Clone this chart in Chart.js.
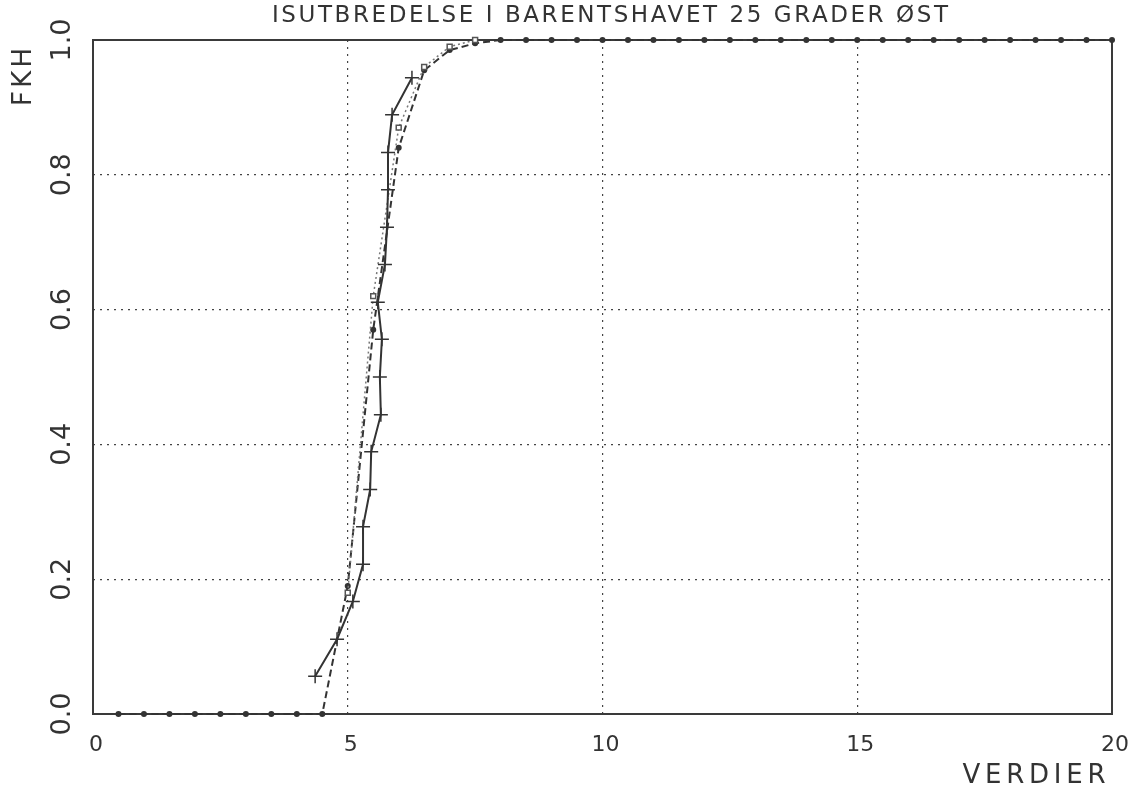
<!DOCTYPE html>
<html>
<head>
<meta charset="utf-8">
<script src="https://cdn.jsdelivr.net/npm/chart.js@4.4.1/dist/chart.umd.min.js"></script>
<style>
  html, body { margin: 0; padding: 0; background: #fff; }
  #wrap { width: 1129px; height: 793px; }
</style>
</head>
<body>
<div id="wrap"><canvas id="cdf-chart" width="1129" height="793"></canvas></div>
<script>
// texts
const titleText = 'ISUTBREDELSE I BARENTSHAVET 25 GRADER ØST';
const xTitle = 'VERDIER';
const yTitle = 'FKH';

// axis ticks
const xTicks = [0, 5, 10, 15, 20];
const yTicks = [0, 0.2, 0.4, 0.6, 0.8, 1.0];

// fitted distribution (dashed line, dots), every 0.5
const fitX = [0.5, 1, 1.5, 2, 2.5, 3, 3.5, 4, 4.5, 5, 5.5, 6, 6.5, 7, 7.5, 8, 8.5, 9, 9.5, 10,
              10.5, 11, 11.5, 12, 12.5, 13, 13.5, 14, 14.5, 15, 15.5, 16, 16.5, 17, 17.5, 18, 18.5, 19, 19.5, 20];
const fitY = [0, 0, 0, 0, 0, 0, 0, 0, 0, 0.19, 0.57, 0.84, 0.955, 0.985, 0.995, 1, 1, 1, 1, 1,
              1, 1, 1, 1, 1, 1, 1, 1, 1, 1, 1, 1, 1, 1, 1, 1, 1, 1, 1, 1];

// second fit (dotted line, squares)
const sqX = [5, 5.5, 6, 6.5, 7, 7.5];
const sqY = [0.18, 0.62, 0.87, 0.96, 0.99, 1];

// observed values (solid line, crosses)
const obsX = [4.36, 4.79, 5.1, 5.3, 5.3, 5.44, 5.46, 5.65, 5.63, 5.67, 5.59, 5.73, 5.77, 5.79, 5.79, 5.87, 6.26];
const obsY = [0.056, 0.111, 0.167, 0.222, 0.278, 0.333, 0.389, 0.444, 0.5, 0.556, 0.611, 0.667, 0.722, 0.778, 0.833, 0.889, 0.944];

const ink = '#333';

function pairs(xs, ys) {
    return xs.map((x, i) => ({ x: x, y: ys[i] }));
}

// draw a string stretched to a given width (plotter lettering is wide)
function spacedText(ctx, text, x, y, width, font, rotate) {
    ctx.save();
    ctx.font = font;
    ctx.letterSpacing = '0px';
    const w = ctx.measureText(text).width;
    const gap = (width - w) / (text.length - 1);
    ctx.letterSpacing = gap + 'px';
    ctx.translate(x, y);
    if (rotate) ctx.rotate(-Math.PI / 2);
    ctx.textAlign = 'left';
    ctx.textBaseline = 'middle';
    ctx.fillStyle = ink;
    ctx.fillText(text, -width / 2, 0);
    ctx.restore();
}

const plotText = {
    id: 'plotText',
    beforeDatasetsDraw(chart) {
        const ctx = chart.ctx, a = chart.chartArea;
        ctx.save();
        ctx.strokeStyle = '#3a3a3a';
        ctx.lineWidth = 2;
        ctx.strokeRect(a.left, a.top, a.right - a.left, a.bottom - a.top);
        ctx.restore();
    },
    afterDraw(chart) {
        const ctx = chart.ctx;
        spacedText(ctx, titleText, 610, 16, 676, '23px "DejaVu Sans"', false);
        spacedText(ctx, xTitle, 1034, 776, 143, '26px "DejaVu Sans"', false);
        spacedText(ctx, yTitle, 24, 77, 58, '26px "DejaVu Sans"', true);
    }
};

const ctx = document.getElementById('cdf-chart').getContext('2d');

const cdfChart = new Chart(ctx, {
    type: 'scatter',
    data: {
        datasets: [
            {
                label: 'observert',
                data: pairs(obsX, obsY),
                showLine: true,
                borderColor: ink,
                borderWidth: 2,
                pointStyle: 'cross',
                pointRadius: 7,
                pointBorderWidth: 1.5,
                pointBorderColor: ink,
                clip: 10,
            },
            {
                label: 'tilpasning 2',
                data: pairs(sqX, sqY),
                showLine: true,
                borderColor: '#777',
                borderWidth: 1.5,
                borderDash: [2, 3],
                pointStyle: 'rect',
                pointRadius: 3.5,
                pointBorderWidth: 1.5,
                pointBorderColor: '#555',
                pointBackgroundColor: '#fff',
                clip: 10,
            },
            {
                label: 'tilpasning',
                data: pairs(fitX, fitY),
                showLine: true,
                borderColor: ink,
                borderWidth: 2,
                borderDash: [7, 4],
                pointStyle: 'circle',
                pointRadius: 3,
                pointBorderWidth: 0,
                pointBackgroundColor: ink,
                clip: 10,
            },
        ],
    },
    options: {
        responsive: false,
        animation: false,
        devicePixelRatio: 1,
        layout: { padding: { top: 40, right: 17, left: 0, bottom: 0 } },
        plugins: {
            legend: { display: false },
            tooltip: { enabled: false },
        },
        scales: {
            x: {
                type: 'linear',
                min: 0,
                max: 20,
                afterBuildTicks: s => { s.ticks = xTicks.map(v => ({ value: v })); },
                afterFit: s => { s.height = 79; s.paddingLeft = 0; s.paddingRight = 0; },
                ticks: {
                    color: ink,
                    font: { family: 'DejaVu Sans', size: 22 },
                    padding: 18,
                    labelOffset: 3,
                    maxRotation: 0,
                    autoSkip: false,
                },
                grid: {
                    drawTicks: false,
                    lineWidth: 1.2,
                    color: c => (c.tick && (c.tick.value === 0 || c.tick.value === 20)) ? 'rgba(0,0,0,0)' : '#444',
                },
                border: { display: false, dash: [2, 5] },
            },
            y: {
                type: 'linear',
                min: 0,
                max: 1,
                afterBuildTicks: s => { s.ticks = yTicks.map(v => ({ value: v })); },
                afterFit: s => { s.width = 93; s.paddingTop = 0; s.paddingBottom = 0; },
                ticks: {
                    color: ink,
                    font: { family: 'DejaVu Sans', size: 27 },
                    padding: 9,
                    minRotation: 90,
                    maxRotation: 90,
                    crossAlign: 'center',
                    callback: v => v.toFixed(1),
                },
                grid: {
                    drawTicks: false,
                    lineWidth: 1.2,
                    color: c => (c.tick && (c.tick.value === 0 || c.tick.value === 1)) ? 'rgba(0,0,0,0)' : '#444',
                },
                border: { display: false, dash: [2, 5] },
            },
        },
    },
    plugins: [plotText],
});
</script>
</body>
</html>
